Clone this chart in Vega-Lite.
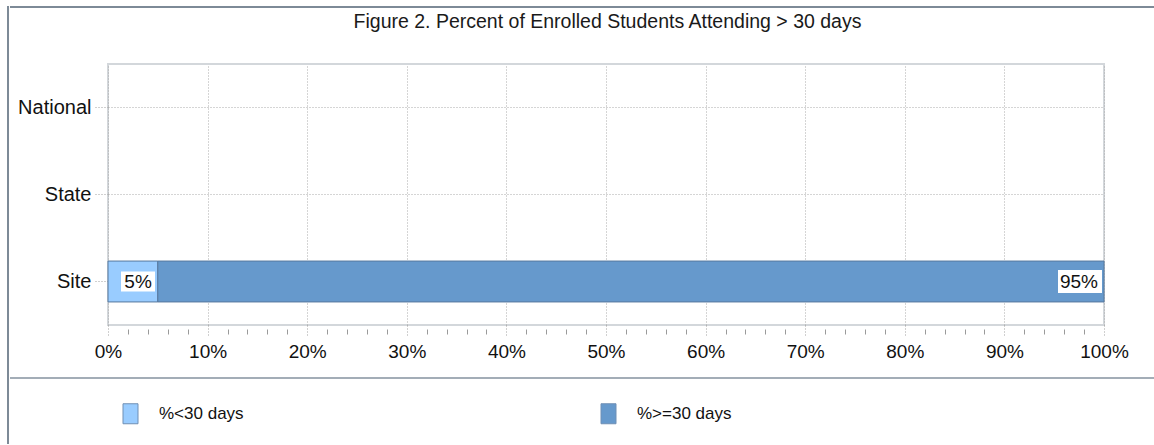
{
  "$schema": "https://vega.github.io/schema/vega-lite/v6.json",
  "padding": {"left": 7, "top": 6, "right": 0, "bottom": 0},
  "background": "white",
  "config": {"font": "Liberation Sans", "view": {"stroke": null}},
  "datasets": {
    "attendance": [
      {"location": "Site", "group": "%<30 days", "share": 0.05},
      {"location": "Site", "group": "%>=30 days", "share": 0.95}
    ]
  },
  "spacing": 0,
  "hconcat": [
    {
      "width": 0.01,
      "height": 436,
      "data": {"values": []},
      "mark": "point",
      "view": {"stroke": "#7d8a97", "strokeWidth": 2}
    },
    {
      "spacing": 30,
      "vconcat": [
        {
          "width": 1145,
          "height": 0.01,
          "data": {"values": []},
          "mark": "point",
          "view": {"stroke": "#7d8a97", "strokeWidth": 2},
          "title": {
            "text": "Figure 2. Percent of Enrolled Students Attending > 30 days",
            "orient": "bottom",
            "anchor": "middle",
            "frame": "group",
            "dx": 24,
            "offset": 6,
            "fontSize": 19.5,
            "fontWeight": "normal",
            "font": "Liberation Sans",
            "color": "#1a1a1a"
          }
        },
        {
          "spacing": 15,
          "vconcat": [
            {
              "spacing": 0,
              "hconcat": [
                {
                  "width": 0.01,
                  "height": 0.01,
                  "data": {"values": []},
                  "mark": "point"
                },
                {
                  "width": 996,
                  "height": 261,
                  "data": {"name": "attendance"},
                  "view": {"stroke": "#d3d7db", "strokeWidth": 2},
                  "resolve": {"axis": {"x": "independent"}},
                  "layer": [
                    {
                      "mark": {"type": "bar", "stroke": "#56789e", "strokeWidth": 1},
                      "encoding": {
                        "y": {
                          "field": "location",
                          "type": "nominal",
                          "scale": {"domain": ["National", "State", "Site"], "paddingInner": 0.53, "paddingOuter": 0.265},
                          "axis": {
                            "title": null,
                            "domain": false,
                            "bandPosition": 0.5,
                            "ticks": true,
                            "tickSize": 13,
                            "tickDash": [1, 2],
                            "tickColor": "#a0a0a0",
                            "grid": true,
                            "gridDash": [1, 2],
                            "gridColor": "#ababab",
                            "labelFontSize": 20,
                            "labelFont": "Liberation Sans",
                            "labelColor": "#111",
                            "labelPadding": 4,
                            "minExtent": 95
                          }
                        },
                        "x": {
                          "field": "share",
                          "type": "quantitative",
                          "stack": "zero",
                          "scale": {"domain": [0, 1], "nice": false},
                          "axis": {
                            "title": null,
                            "orient": "bottom",
                            "format": ".0%",
                            "values": [0, 0.1, 0.2, 0.3, 0.4, 0.5, 0.6, 0.7, 0.8, 0.9, 1],
                            "domain": false,
                            "grid": true,
                            "gridDash": [1, 2],
                            "gridColor": "#ababab",
                            "tickSize": 10,
                            "tickDash": [1, 2],
                            "tickColor": "#a0a0a0",
                            "labelFlush": false,
                            "labelFontSize": 19,
                            "labelFont": "Liberation Sans",
                            "labelColor": "#111",
                            "labelPadding": 7
                          }
                        },
                        "color": {
                          "field": "group",
                          "type": "nominal",
                          "scale": {"domain": ["%<30 days", "%>=30 days"], "range": ["#99ccff", "#6699cc"]},
                          "legend": {
                            "title": null,
                            "orient": "none",
                            "legendX": 112,
                            "legendY": 396,
                            "direction": "horizontal",
                            "padding": 0,
                            "symbolType": "M-0.75,-1H0.75V1H-0.75Z",
                            "symbolSize": 400,
                            "symbolStrokeColor": "#6f8fb5",
                            "symbolStrokeWidth": 1,
                            "symbolOpacity": 1,
                            "labelOffset": 18,
                            "columnPadding": 354,
                            "labelFontSize": 17,
                            "labelFont": "Liberation Sans",
                            "labelColor": "#111"
                          }
                        }
                      }
                    },
                    {
                      "transform": [{"filter": "datum.group === '%<30 days'"}],
                      "mark": {"type": "point", "filled": true, "fill": "white", "opacity": 1, "strokeWidth": 0, "size": 1600, "shape": "M-1.84,-0.5H-0.14V0.5H-1.84Z"},
                      "encoding": {
                        "y": {"field": "location", "type": "nominal"},
                        "x": {
                          "field": "share",
                          "type": "quantitative",
                          "axis": {
                            "title": null,
                            "orient": "bottom",
                            "values": [0.02, 0.04, 0.06, 0.08, 0.12, 0.14, 0.16, 0.18, 0.22, 0.24, 0.26, 0.28, 0.32, 0.34, 0.36, 0.38, 0.42, 0.44, 0.46, 0.48, 0.52, 0.54, 0.56, 0.58, 0.62, 0.64, 0.66, 0.68, 0.72, 0.74, 0.76, 0.78, 0.82, 0.84, 0.86, 0.88, 0.92, 0.94, 0.96, 0.98],
                            "labels": false,
                            "grid": false,
                            "domain": false,
                            "offset": 4,
                            "tickSize": 5,
                            "tickColor": "#9a9a9a"
                          }
                        }
                      }
                    },
                    {
                      "mark": {"type": "point", "filled": true, "fill": "white", "opacity": 1, "strokeWidth": 0, "size": 1600, "shape": "M-2.3,-0.58H-0.1V0.58H-2.3Z"},
                      "encoding": {
                        "y": {"field": "location", "type": "nominal"},
                        "x": {"field": "share", "type": "quantitative", "stack": "zero", "axis": null},
                        "detail": {"field": "group"},
                        "opacity": {"condition": {"test": "datum.group === '%>=30 days'", "value": 1}, "value": 0}
                      }
                    },
                    {
                      "mark": {"type": "text", "align": "right", "baseline": "middle", "dx": -6, "fontSize": 19, "font": "Liberation Sans", "color": "#111"},
                      "encoding": {
                        "y": {"field": "location", "type": "nominal"},
                        "x": {"field": "share", "type": "quantitative", "stack": "zero", "axis": null},
                        "detail": {"field": "group"},
                        "text": {"field": "share", "type": "quantitative", "format": ".0%"}
                      }
                    }
                  ]
                }
              ]
            },
            {
              "width": 1145,
              "height": 0.01,
              "data": {"values": []},
              "mark": "point",
              "view": {"stroke": "#a3adb7", "strokeWidth": 2}
            }
          ]
        }
      ]
    }
  ]
}
